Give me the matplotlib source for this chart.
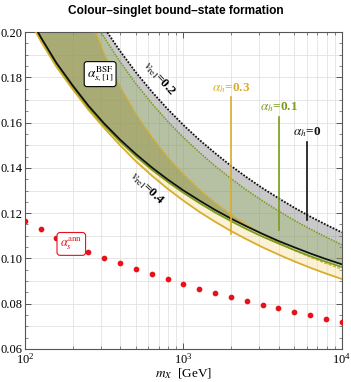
import numpy as np
import matplotlib.pyplot as plt
from matplotlib.ticker import MultipleLocator, LogLocator, LogFormatterMathtext, NullFormatter, FormatStrFormatter

plt.rcParams['font.family'] = ['Liberation Serif', 'DejaVu Serif']
plt.rcParams['mathtext.fontset'] = 'stix'

# masses (GeV), one point every 0.1 in log10
mass = [100, 126, 158, 200, 251, 316, 398, 501, 631, 794, 1000,
        1259, 1585, 1995, 2512, 3162, 3981, 5012, 6310, 7943, 10000]

# BSF coupling bands: upper edge v_rel=0.2, lower edge v_rel=0.4
h0_v02 = [0.2769, 0.2577, 0.2411, 0.2264, 0.2135, 0.2019, 0.1916, 0.1822, 0.1737, 0.1660, 0.1589,
          0.1524, 0.1465, 0.1409, 0.1358, 0.1310, 0.1266, 0.1224, 0.1185, 0.1149, 0.1115]
h0_v04 = [0.2105, 0.1976, 0.1863, 0.1764, 0.1675, 0.1596, 0.1525, 0.1461, 0.1402, 0.1349, 0.1300,
          0.1256, 0.1214, 0.1176, 0.1141, 0.1108, 0.1077, 0.1049, 0.1022, 0.0997, 0.0974]
h01_v02 = [0.2730, 0.2545, 0.2380, 0.2235, 0.2098, 0.1977, 0.1869, 0.1772, 0.1685, 0.1606, 0.1534,
           0.1469, 0.1408, 0.1353, 0.1301, 0.1254, 0.1210, 0.1168, 0.1130, 0.1094, 0.1060]
h01_v04 = [0.2105, 0.1974, 0.1859, 0.1758, 0.1668, 0.1588, 0.1516, 0.1451, 0.1392, 0.1339, 0.1290,
           0.1245, 0.1203, 0.1165, 0.1129, 0.1096, 0.1066, 0.1037, 0.1010, 0.0985, 0.0962]
h03_v02 = [0.3413, 0.2926, 0.2567, 0.2294, 0.2078, 0.1903, 0.1759, 0.1638, 0.1536, 0.1448, 0.1372,
           0.1305, 0.1246, 0.1194, 0.1148, 0.1107, 0.1070, 0.1036, 0.1006, 0.0978, 0.0953]
h03_v04 = [0.2088, 0.1959, 0.1846, 0.1747, 0.1657, 0.1576, 0.1500, 0.1429, 0.1366, 0.1308, 0.1255,
           0.1206, 0.1162, 0.1121, 0.1084, 0.1049, 0.1017, 0.0987, 0.0959, 0.0933, 0.0909]

# annihilation coupling
ann = [0.1165, 0.1129, 0.1092, 0.1060, 0.1030, 0.1000, 0.0978, 0.0953, 0.0930, 0.0908, 0.0887,
       0.0866, 0.0847, 0.0829, 0.0812, 0.0794, 0.0780, 0.0763, 0.0749, 0.0732, 0.0720]

# marker lines for the alpha_h labels
tag_mass = [2000, 4000, 6000]
tag_top = [0.1712, 0.1626, 0.1516]
tag_bot = [0.1110, 0.1125, 0.1170]
tag_text = [r'$\alpha_h$=0.3', r'$\alpha_h$=0.1', r'$\alpha_h$=0']

c_black = '#111111'
c_green = '#7a9c1c'
c_gold = '#d9ad2c'

fig = plt.figure(figsize=(3.51, 3.82), dpi=100)
ax = fig.add_axes([0.0712, 0.0864, 0.9028, 0.8298])

m = np.array(mass)
ax.fill_between(m, h0_v04, h0_v02, color='#808080', alpha=0.42, lw=0, zorder=1)
ax.fill_between(m, h01_v04, h01_v02, color='#8cad49', alpha=0.3, lw=0, zorder=1)
ax.fill_between(m, h03_v04, h03_v02, color='#f5dc88', alpha=0.35, lw=0, zorder=1)
lo = np.maximum(np.maximum(h0_v04, h01_v04), h03_v04)
hi = np.minimum(np.minimum(h0_v02, h01_v02), h03_v02)
ax.fill_between(m, lo, hi, where=hi > lo, interpolate=True, color='#6f7d3a', alpha=0.38, lw=0, zorder=1)

ax.plot(m, h0_v02, color=c_black, lw=1.3, ls=(0, (1, 0.8)), zorder=3)
ax.plot(m, h01_v02, color=c_green, lw=1.1, ls=(0, (1, 0.8)), zorder=3)
ax.plot(m, h03_v02, color=c_gold, lw=1.1, ls=(0, (2, 1)), zorder=3)
ax.plot(m, h03_v04, color=c_gold, lw=1.3, zorder=3)
ax.plot(m, h01_v04, color=c_green, lw=1.3, zorder=3)
ax.plot(m, h0_v04, color=c_black, lw=1.3, zorder=3)

ax.plot(mass, ann, 'o', color='#e8101a', ms=3.1, mec='#e8101a', zorder=4)

for mm, t, b, s, c in zip(tag_mass, tag_top, tag_bot, tag_text, [c_gold, c_green, c_black]):
    ax.plot([mm, mm], [b, t], color=c, lw=1.2, zorder=3)
    ax.text(mm, t + 0.0010, s, color=c, ha='center', va='bottom', fontsize=9.5,
            fontweight='bold', zorder=5)

ax.text(700, 0.1795, r'$v_{\rm rel}$=0.2', rotation=-47, ha='center', va='center',
        fontsize=9.5, fontweight='bold', zorder=5)
ax.text(590, 0.1310, r'$v_{\rm rel}$=0.4', rotation=-43, ha='center', va='center',
        fontsize=9.5, fontweight='bold', zorder=5)
ax.text(298, 0.1814, r'$\alpha^{\rm BSF}_{s,[1]}$', ha='center', va='center', fontsize=9.5,
        zorder=5, bbox=dict(boxstyle='round,pad=0.2', fc='white', ec='black', lw=0.8))
ax.text(196, 0.1064, r'$\alpha^{\rm ann}_{s}$', ha='center', va='center', fontsize=9,
        color='#e8101a', zorder=5,
        bbox=dict(boxstyle='round,pad=0.25', fc='white', ec='#e8101a', lw=0.8))

ax.set_xscale('log')
ax.set_xlim(100, 1e4)
ax.set_ylim(0.06, 0.20)
ax.xaxis.set_major_locator(LogLocator(base=10, numticks=5))
ax.xaxis.set_major_formatter(LogFormatterMathtext())
ax.xaxis.set_minor_locator(LogLocator(base=10, subs=np.arange(2, 10), numticks=20))
ax.xaxis.set_minor_formatter(NullFormatter())
ax.yaxis.set_major_locator(MultipleLocator(0.02))
ax.yaxis.set_minor_locator(MultipleLocator(0.005))
ax.yaxis.set_major_formatter(FormatStrFormatter('%.2f'))

# grid every 0.01 in y and at every log tick in x
for yv in np.arange(0.07, 0.20, 0.01):
    ax.axhline(yv, color='#e2e2e2', lw=0.6, zorder=0)
ax.grid(True, which='both', axis='x', color='#e2e2e2', lw=0.6, zorder=0)
ax.set_axisbelow(True)

ax.tick_params(which='both', direction='in', top=True, right=True, labelsize=9,
               color='#555555', pad=2)
ax.tick_params(which='major', length=4, width=0.7)
ax.tick_params(which='minor', length=2, width=0.5)
for sp in ax.spines.values():
    sp.set_color('#555555')
    sp.set_linewidth(0.8)

ax.set_xlabel(r'$m_X$  [GeV]', fontsize=9.5, labelpad=0)
fig.text(0.5, 0.972, 'Colour\u2013singlet bound\u2013state formation', ha='center', va='center',
         fontsize=8.6, fontweight='bold', family='Liberation Sans')

fig.savefig('out.png', dpi=100)
